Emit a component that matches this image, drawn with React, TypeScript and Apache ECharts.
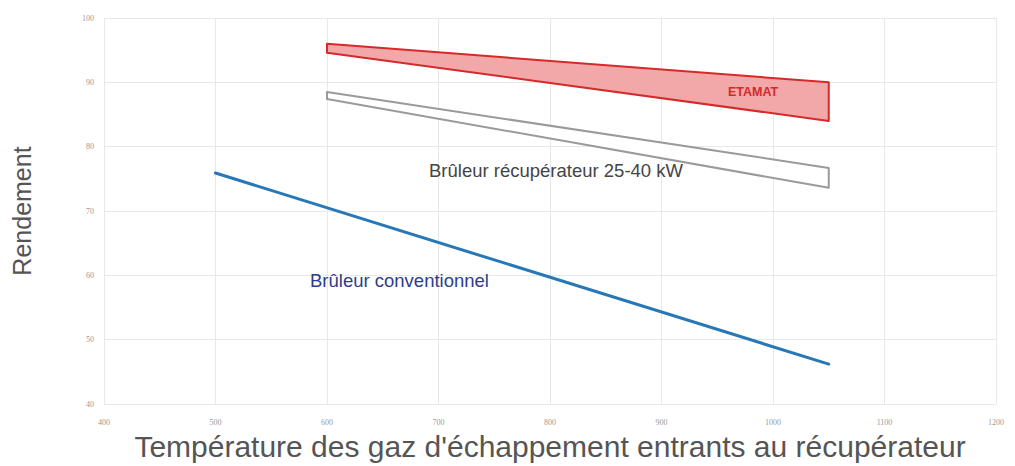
import React, { useEffect, useRef } from "react";
import * as echarts from "echarts";

const xTicks = [400, 500, 600, 700, 800, 900, 1000, 1100, 1200];
const yTicks = [40, 50, 60, 70, 80, 90, 100];

const etamatX = [600, 1050];
const etamatTop = [96, 90];
const etamatBottom = [94.6, 84];

const recupX = [600, 1050];
const recupTop = [88.5, 76.7];
const recupBottom = [87.4, 73.6];

const convX = [500, 1050];
const convY = [75.9, 46.2];

function bandSeries(name: string, xs: number[], top: number[], bottom: number[], fill: string, stroke: string) {
  return {
    type: "custom",
    name,
    data: xs.map((x, i) => [x, top[i], bottom[i]]),
    renderItem: (params: any, api: any) => {
      if (params.dataIndex !== 0) return null;
      const pts: number[][] = [];
      xs.forEach((x, i) => pts.push(api.coord([x, top[i]])));
      for (let i = xs.length - 1; i >= 0; i--) pts.push(api.coord([xs[i], bottom[i]]));
      return {
        type: "polygon",
        shape: { points: pts },
        style: { fill, stroke, lineWidth: 2, lineJoin: "round" },
      };
    },
    encode: { x: 0, y: [1, 2] },
    silent: true,
  };
}

export default function App() {
  const ref = useRef<HTMLDivElement>(null);
  useEffect(() => {
    document.body.style.margin = "0";
    const chart = echarts.init(ref.current!, null, { renderer: "svg" });
    chart.setOption({
      animation: false,
      backgroundColor: "#ffffff",
      grid: { left: 104, right: 19, top: 18, bottom: 62 },
      xAxis: {
        type: "value",
        min: xTicks[0],
        max: xTicks[xTicks.length - 1],
        interval: 100,
        name: "Température des gaz d'échappement entrants au récupérateur",
        nameLocation: "middle",
        nameGap: 27,
        nameTextStyle: { fontSize: 30, color: "#555555", fontFamily: "Liberation Sans" },
        axisLine: { show: false },
        axisTick: { show: false },
        axisLabel: { fontSize: 8, color: "#999999", margin: 14, fontFamily: "Liberation Serif", formatter: (v: number) => String(v) },
        splitLine: { lineStyle: { color: "#e8e8e8", width: 1 } },
      },
      yAxis: {
        type: "value",
        min: yTicks[0],
        max: yTicks[yTicks.length - 1],
        interval: 10,
        name: "Rendement",
        nameLocation: "middle",
        nameGap: 70,
        nameTextStyle: { fontSize: 25, color: "#555555", fontFamily: "Liberation Sans" },
        axisLine: { show: false },
        axisTick: { show: false },
        axisLabel: { fontSize: 8, color: "#999999", margin: 10, fontFamily: "Liberation Serif", formatter: (v: number) => String(v) },
        splitLine: { lineStyle: { color: "#e8e8e8", width: 1 } },
      },
      series: [
        bandSeries("ETAMAT", etamatX, etamatTop, etamatBottom, "#f2a7a9", "#d42a2a"),
        bandSeries("Brûleur récupérateur 25-40 kW", recupX, recupTop, recupBottom, "#ffffff", "#9a9a9a"),
        {
          type: "line",
          name: "Brûleur conventionnel",
          data: convX.map((x, i) => [x, convY[i]]),
          symbol: "none",
          lineStyle: { color: "#2878b8", width: 3, cap: "round" },
          silent: true,
        },
      ],
      graphic: [
        {
          type: "text",
          z: 100,
          left: 728,
          top: 85,
          style: { text: "ETAMAT", fontSize: 12.5, fontWeight: "bold", fill: "#d42a2a", fontFamily: "Liberation Sans" },
        },
        {
          type: "text",
          z: 100,
          left: 429,
          top: 161,
          style: { text: "Brûleur récupérateur 25-40 kW", fontSize: 18.5, fill: "#444444", fontFamily: "Liberation Sans" },
        },
        {
          type: "text",
          z: 100,
          left: 310,
          top: 271,
          style: { text: "Brûleur conventionnel", fontSize: 18.5, fill: "#2e3d8a", fontFamily: "Liberation Sans" },
        },
      ],
    });
    return () => chart.dispose();
  }, []);
  return <div ref={ref} style={{ width: 1015, height: 466 }} />;
}
